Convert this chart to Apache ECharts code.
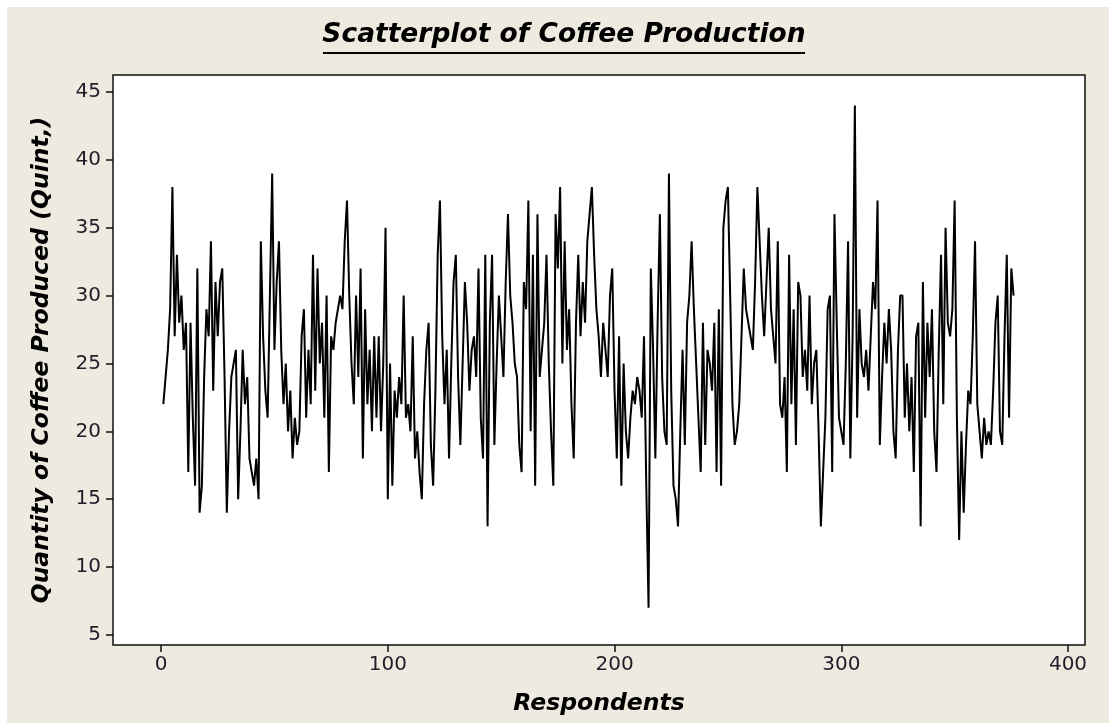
<!DOCTYPE html>
<html>
<head>
    <meta charset="utf-8">
    <title>Scatterplot of Coffee Production</title>
    <script src="https://cdn.jsdelivr.net/npm/echarts@6.0.0/dist/echarts.min.js"></script>
    <style>
        body { margin: 0; background: #fff; }
        #chart { position: absolute; left: 7px; top: 7px; width: 1102px; height: 716px; }
    </style>
</head>
<body>
    <div id="chart"></div>
    <script type="text/javascript">
        // Quantity of coffee produced per respondent (respondents 1..376)
        var production = [
            22,24,26,29,38,27,33,28,30,26,28,17,28,21,16,32,14,16,24,29,27,34,23,31,27,31,32,24,14,20,24,25,26,15,20,26,22,24,18,17,16,18,15,34,27,23,21,30,
            39,26,31,34,26,22,25,20,23,18,21,19,20,27,29,21,26,22,33,23,32,25,28,21,30,17,27,26,28,29,30,29,34,37,30,25,22,30,24,32,18,29,22,26,20,27,21,27,20,25,35,15,
            25,16,23,21,24,22,30,21,22,20,27,18,20,17,15,22,26,28,19,16,23,33,37,27,22,26,18,25,31,33,24,19,25,31,28,23,26,27,24,32,21,18,33,13,28,33,19,25,30,27,24,31,36,30,
            28,25,24,19,17,31,29,37,20,33,16,36,24,26,28,33,25,20,16,36,32,38,25,34,26,29,22,18,28,33,27,31,28,34,36,38,33,29,27,24,28,26,24,30,32,23,18,27,16,25,20,18,21,23,22,24,
            23,21,27,16,7,32,26,18,28,36,24,20,19,39,23,16,15,13,20,26,19,28,30,34,29,25,21,17,28,19,26,25,23,28,17,29,16,35,37,38,30,22,19,20,22,27,32,29,28,27,26,31,38,34,30,27,
            31,35,29,27,25,34,22,21,24,17,33,22,29,19,31,30,24,26,23,30,22,25,26,20,13,17,21,29,30,17,36,28,21,20,19,25,34,18,27,44,21,29,25,24,26,23,27,31,29,37,19,24,28,25,29,
            26,20,18,26,30,30,21,25,20,24,17,27,28,13,31,21,28,24,29,20,17,26,33,22,35,28,27,29,37,21,12,20,14,19,23,22,27,34,22,20,18,21,19,20,19,23,28,30,20,19,27,33,21,32,30
        ];
        var xTicks = [0, 100, 200, 300, 400];
        var yTicks = [5, 10, 15, 20, 25, 30, 35, 40, 45];
        var chartTitle = 'Scatterplot of Coffee Production';
        var xName = 'Respondents';
        var yName = 'Quantity of Coffee Produced (Quint,)';

        var points = production.map(function (v, i) { return [i + 1, v]; });

        var font = 'DejaVu Sans';
        var option = {
            animation: false,
            backgroundColor: '#EEEAE0',
            grid: {
                left: 106, right: 24, top: 68, bottom: 78,
                show: true, backgroundColor: '#fff',
                borderColor: '#111', borderWidth: 1.5
            },
            graphic: [
                {
                    type: 'text', x: 557, y: 15,
                    style: {
                        text: chartTitle, fill: '#000',
                        textAlign: 'center', textVerticalAlign: 'top',
                        font: 'italic bold 26.5px "' + font + '"'
                    }
                },
                {
                    type: 'line',
                    shape: { x1: 316, y1: 46, x2: 798, y2: 46 },
                    style: { stroke: '#000', lineWidth: 2 }
                }
            ],
            xAxis: {
                type: 'value', min: -21.2, max: 407.5,
                name: xName, nameLocation: 'middle', nameGap: 47,
                nameTextStyle: { fontFamily: font, fontSize: 23.5, fontStyle: 'italic', fontWeight: 'bold', color: '#000' },
                axisLine: { show: false, onZero: false },
                axisTick: { show: true, length: 7, customValues: xTicks, lineStyle: { color: '#111', width: 1.5 } },
                axisLabel: { customValues: xTicks, fontFamily: font, fontSize: 20, color: '#1e1e2a', margin: 10 },
                splitLine: { show: false }
            },
            yAxis: {
                type: 'value', min: 4.26, max: 46.25,
                name: yName, nameLocation: 'middle', nameGap: 60,
                nameTextStyle: { fontFamily: font, fontSize: 23.5, fontStyle: 'italic', fontWeight: 'bold', color: '#000' },
                axisLine: { show: false, onZero: false },
                axisTick: { show: true, length: 7, customValues: yTicks, lineStyle: { color: '#111', width: 1.5 } },
                axisLabel: { customValues: yTicks, fontFamily: font, fontSize: 20, color: '#1e1e2a', margin: 12 },
                splitLine: { show: false }
            },
            series: [{
                type: 'line',
                data: points,
                symbol: 'none',
                sampling: null,
                lineStyle: { color: '#000', width: 2 }
            }]
        };

        var chart = echarts.init(document.getElementById('chart'));
        chart.setOption(option);
    </script>
</body>
</html>
